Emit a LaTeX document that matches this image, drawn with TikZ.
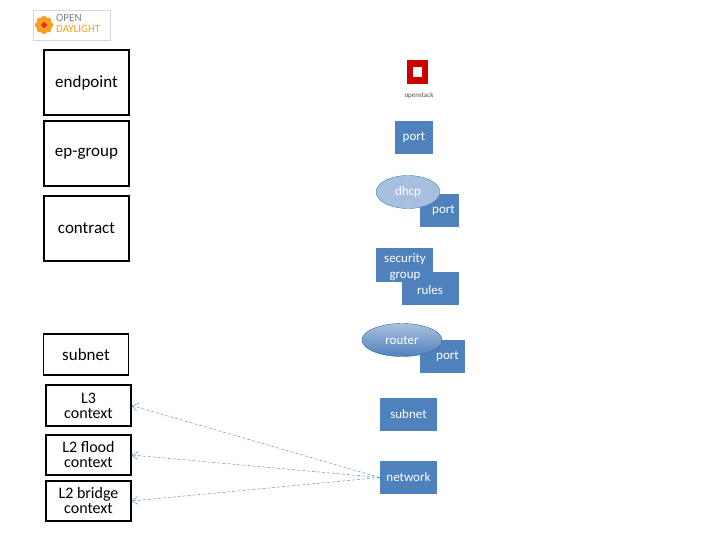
\documentclass[tikz,border=0pt]{standalone}
\usepackage{fontspec}
\setmainfont{Carlito}
\usetikzlibrary{shapes.geometric, arrows.meta}
\definecolor{osblue}{RGB}{79,129,189}
\definecolor{dhcpblue}{RGB}{167,190,222}
\definecolor{odlorange}{RGB}{245,160,30}
\tikzset{
  gbp/.style={draw, very thick, minimum width=85pt, align=center, font=\fontsize{17}{17}\selectfont},
  os/.style={fill=osblue, text=white, inner sep=1pt, font=\fontsize{13}{13}\selectfont, align=center},
  link/.style={densely dashed, osblue, -{Straight Barb[length=6pt, width=8pt]}}
}
\begin{document}
\begin{tikzpicture}[x=1pt, y=-1pt]
  \useasboundingbox (0,0) rectangle (720,540);

  % logo
  \draw[black!15] (33,10) rectangle (110,40);
  \foreach \a in {0,45,...,315}
    \fill[odlorange] (44,25) ++(\a:6) circle (3.2);
  \fill[red!70!orange] (44,25) circle (3);
  \node[anchor=west, inner sep=0pt, text=black!50, font=\fontsize{11}{11}\selectfont] (odlopen) at (56,18) {OPEN};
  \node[anchor=west, inner sep=0pt, text=odlorange, font=\fontsize{11}{11}\selectfont] (odlday) at (56,29) {DAYLIGHT};

  % group policy side
  \node[gbp, minimum height=65pt] (endpoint) at (86.5,82.5) {endpoint};
  \node[gbp, minimum height=65pt] (epgroup) at (86.5,153.5) {ep-group};
  \node[gbp, minimum height=65pt] (contract) at (86.5,228.5) {contract};
  \node[gbp, minimum height=41pt] (subnet) at (86,354.5) {subnet};
  \node[gbp, minimum height=41pt, font=\fontsize{16}{15}\selectfont] (lthree) at (88.5,405.5) {L3\\context};
  \node[gbp, minimum height=40pt, font=\fontsize{16}{15}\selectfont] (lflood) at (88.5,455) {L2 flood\\context};
  \node[gbp, minimum height=40pt, font=\fontsize{16}{15}\selectfont] (lbridge) at (88.5,501) {L2 bridge\\context};

  % openstack logo
  \fill[red!80!black] (407,60) rectangle (428,84);
  \fill[white] (413,67) rectangle (422,77);
  \node[inner sep=0pt, font=\fontsize{7}{7}\selectfont, text=black!70] (oslabel) at (419,96) {openstack};

  % neutron side
  \node[os, minimum width=38pt, minimum height=33pt] (port) at (414,137.5) {port};
  \node[os, minimum width=39pt, minimum height=33pt] (dhcpport) at (439.5,210.5) {\hspace*{8pt}port};
  \node[ellipse, draw=osblue, fill=dhcpblue, text=white, minimum width=64pt, minimum height=33pt, inner sep=0pt, font=\fontsize{13}{13}\selectfont] (dhcp) at (408,192) {dhcp};
  \node[os, minimum width=57pt, minimum height=34pt, anchor=north west] (secgroup) at (376,248) {};
  \node[os, minimum width=57pt, minimum height=33pt, anchor=north west] (rules) at (402,272) {};
  \node[text=white, font=\fontsize{13}{16}\selectfont, align=center, inner sep=0pt] (secgrouplabel) at (405,267) {security\\group};
  \node[text=white, font=\fontsize{13}{13}\selectfont, inner sep=0pt] (ruleslabel) at (430,290) {rules};
  \node[os, minimum width=45pt, minimum height=33pt] (routerport) at (442.5,356.5) {\hspace*{10pt}port};
  \node[ellipse, draw=osblue!80!black, top color=osblue!50, bottom color=osblue, text=white, minimum width=80pt, minimum height=33pt, inner sep=0pt, font=\fontsize{13}{13}\selectfont] (router) at (402,340) {router};
  \node[os, minimum width=57pt, minimum height=33pt] (ossubnet) at (408.5,414.5) {subnet};
  \node[os, minimum width=57pt, minimum height=33pt] (network) at (408.5,477.5) {network};

  \draw[link] (network.west) -- (lthree.east);
  \draw[link] (network.west) -- (lflood.east);
  \draw[link] (network.west) -- (lbridge.east);
\end{tikzpicture}
\end{document}
